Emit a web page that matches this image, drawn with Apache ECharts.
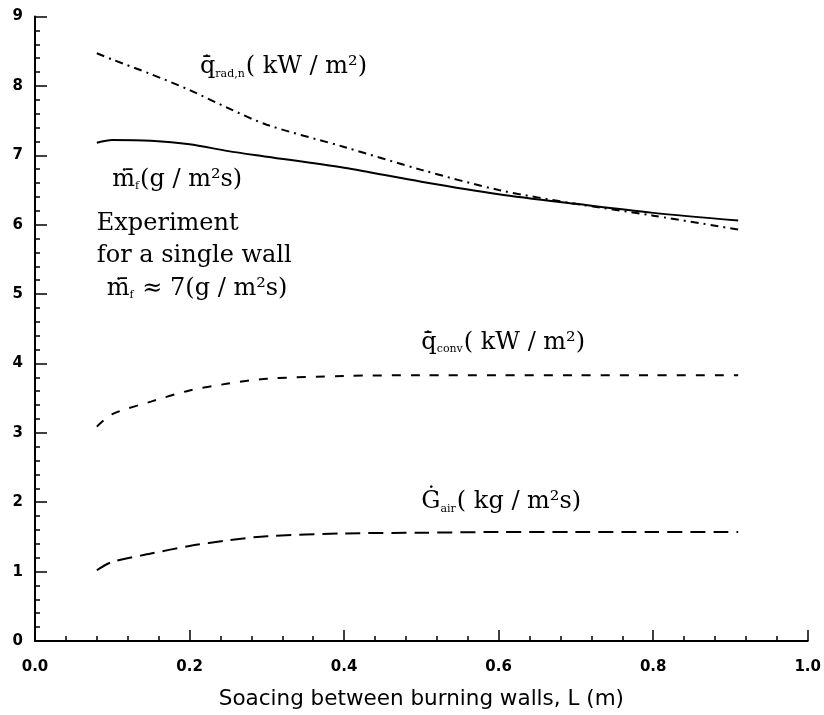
<!DOCTYPE html>
<html>
<head>
<meta charset="utf-8">
<script src="https://cdn.jsdelivr.net/npm/echarts@6/dist/echarts.min.js"></script>
<style>html,body{margin:0;padding:0;background:#fff}#c{width:824px;height:715px}</style>
</head>
<body>
<div id="c"></div>
<script>
// Data
const spacingL = [0.08, 0.10, 0.15, 0.20, 0.25, 0.30, 0.40, 0.50, 0.60, 0.70, 0.80, 0.91];
const qRad  = [8.47, 8.38, 8.17, 7.94, 7.68, 7.44, 7.12, 6.79, 6.50, 6.30, 6.13, 5.93];
const mDot  = [7.18, 7.22, 7.21, 7.16, 7.06, 6.98, 6.82, 6.62, 6.44, 6.30, 6.17, 6.06];
const qConv = [3.09, 3.27, 3.45, 3.61, 3.71, 3.78, 3.82, 3.83, 3.83, 3.83, 3.83, 3.83];
const gAir  = [1.02, 1.14, 1.26, 1.37, 1.45, 1.51, 1.55, 1.56, 1.57, 1.57, 1.57, 1.57];

const xTicks = [0, 0.2, 0.4, 0.6, 0.8, 1.0];
const yTicks = [0, 1, 2, 3, 4, 5, 6, 7, 8, 9];
const xTitle = 'Soacing between burning walls, L (m)';

// annotation labels: [L, value, rich text]
const annotations = [
  [0.2135, 8.27, '{m|q\u0307\u0304}{s|rad,n}{m|( kW / m²)}'],
  [0.100, 6.65, '{m|m\u0307\u0304}{s|f}{m|(g / m²s)}'],
  [0.080, 6.02, '{m|Experiment}'],
  [0.080, 5.55, '{m|for a single wall}'],
  [0.093, 5.08, '{m|m\u0307\u0304}{s|f}{m| ≈ 7(g / m²s)}'],
  [0.500, 4.30, '{m|q\u0307\u0304}{s|conv}{m|( kW / m²)}'],
  [0.500, 2.00, '{m|G\u0307}{s|air}{m|( kg / m²s)}']
];

const chart = echarts.init(document.getElementById('c'));
const mk = (ys) => spacingL.map((x, i) => [x, ys[i]]);
const lineSeries = (name, ys, dash) => ({
  name, type: 'line', data: mk(ys), showSymbol: false, smooth: 0.3,
  lineStyle: { color: '#000', width: 2, type: dash }
});

chart.setOption({
  animation: false,
  backgroundColor: '#fff',
  grid: { left: 35, right: 16, top: 16.5, bottom: 73 },
  xAxis: {
    type: 'value', min: 0, max: 1, interval: 0.2,
    name: xTitle, nameLocation: 'middle', nameGap: 47,
    nameTextStyle: { fontFamily: 'DejaVu Sans', fontSize: 21.5, color: '#000' },
    axisLine: { lineStyle: { color: '#000', width: 2 } },
    axisTick: { inside: true, length: 11, lineStyle: { color: '#000', width: 1.5 } },
    minorTick: { show: true, splitNumber: 5, length: 5, lineStyle: { color: '#000', width: 1.5 } },
    splitLine: { show: false },
    axisLabel: { margin: 19, color: '#000', fontFamily: 'DejaVu Sans', fontWeight: 'bold', fontSize: 15,
      formatter: v => xTicks.some(t => Math.abs(t - v) < 1e-9) ? v.toFixed(1) : '' }
  },
  yAxis: {
    type: 'value', min: 0, max: 9, interval: 1,
    axisLine: { show: true, lineStyle: { color: '#000', width: 2 } },
    axisTick: { show: true, inside: true, length: 12, lineStyle: { color: '#000', width: 1.5 } },
    minorTick: { show: true, splitNumber: 5, length: 5, lineStyle: { color: '#000', width: 1.5 } },
    splitLine: { show: false },
    axisLabel: { margin: 12, color: '#000', fontFamily: 'DejaVu Sans', fontWeight: 'bold', fontSize: 15,
      formatter: v => yTicks.includes(v) ? String(v) : '' }
  },
  series: [
    lineSeries('qrad', qRad, [8, 5, 2, 5]),
    lineSeries('m', mDot, 'solid'),
    lineSeries('qconv', qConv, [9, 10]),
    lineSeries('gair', gAir, [15, 8])
  ]
});

const rich = {
  m: { fontFamily: 'DejaVu Serif', fontSize: 24, fill: '#000', verticalAlign: 'middle' },
  s: { fontFamily: 'DejaVu Serif', fontSize: 11, fill: '#000', verticalAlign: 'bottom', padding: [0, 1, 0, 0] }
};
const graphics = annotations.map(([lx, vy, txt]) => {
  const p = chart.convertToPixel({ gridIndex: 0 }, [lx, vy]);
  return { type: 'text', x: p[0], y: p[1], style: { text: txt, rich, verticalAlign: 'middle', align: 'left', fill: '#000' } };
});
chart.setOption({ graphic: graphics });
</script>
</body>
</html>
